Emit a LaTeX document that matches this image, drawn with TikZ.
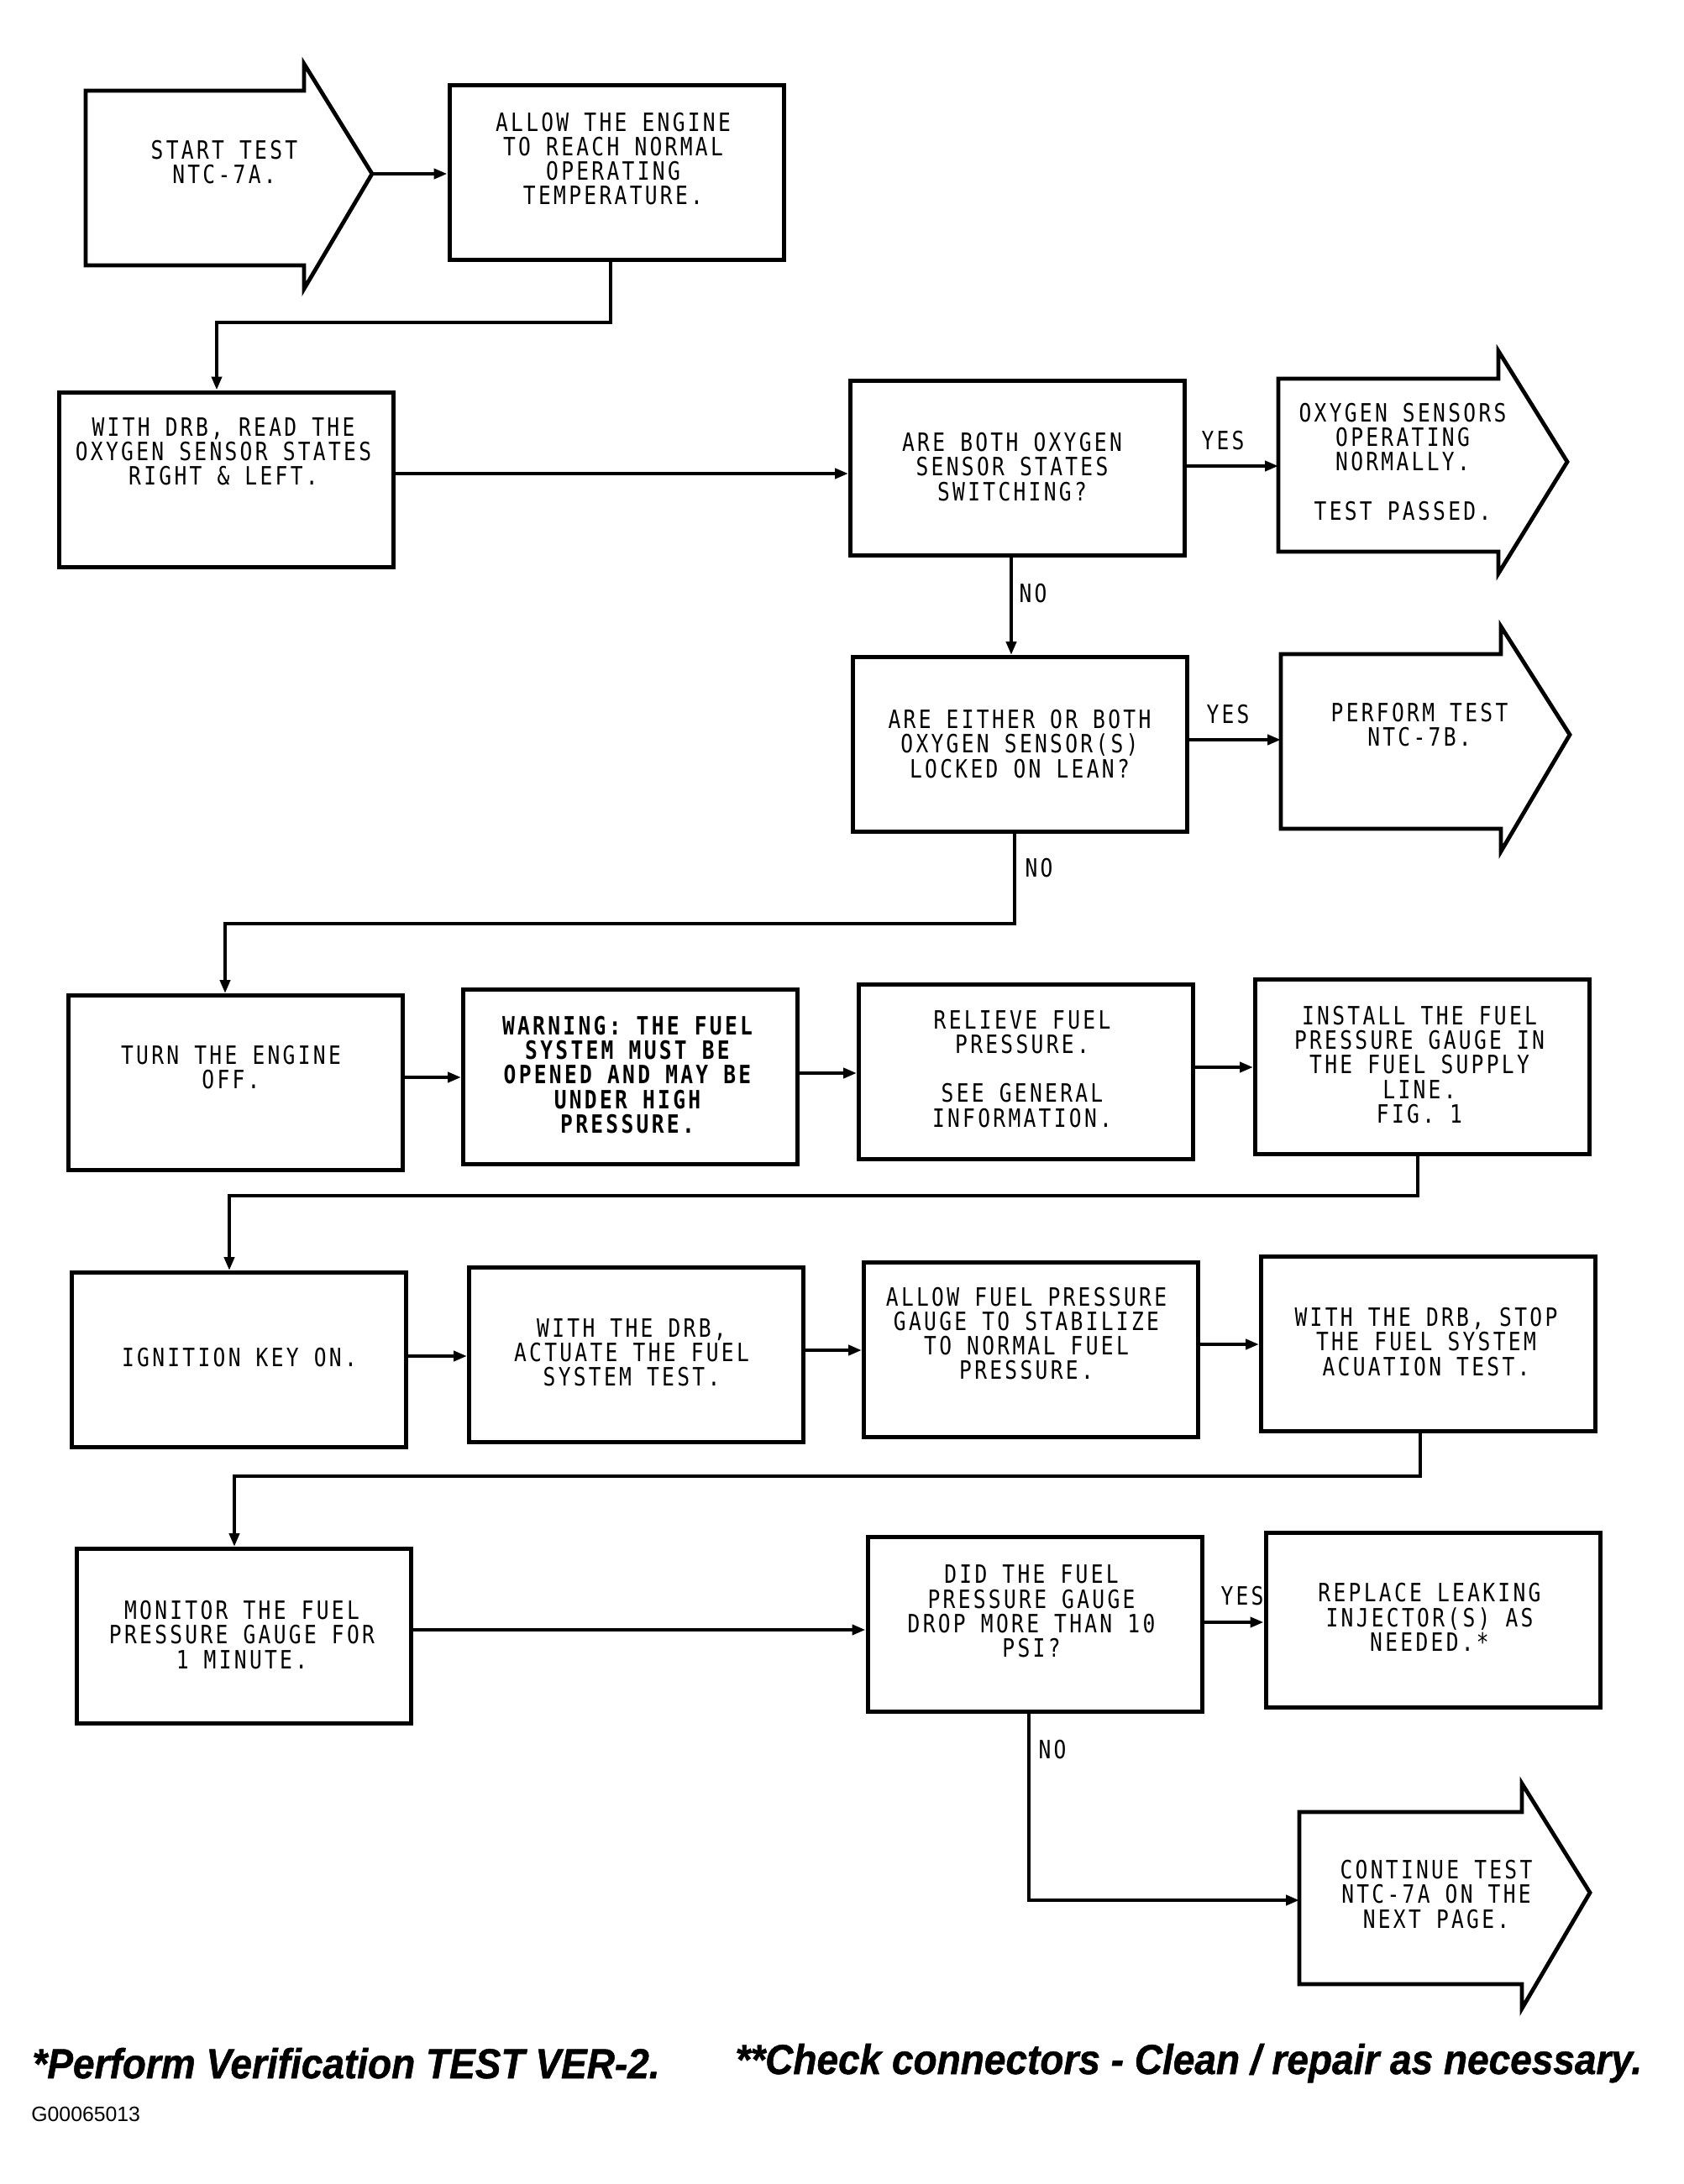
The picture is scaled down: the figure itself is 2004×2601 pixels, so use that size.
\documentclass[tikz,border=0pt]{standalone}
\usepackage{fontspec}
\usetikzlibrary{arrows.meta}
\newfontfamily\plotfont[FakeStretch=0.82,LetterSpace=11]{DejaVu Sans Mono}
\newfontfamily\notefont{Liberation Sans}
\newfontfamily\notebold[FakeStretch=0.92,FakeBold=1]{Liberation Sans Bold Italic}
\begin{document}
\begin{tikzpicture}[x=0.5pt,y=-0.5pt,
  box/.style={draw, line width=2.5pt, minimum width=199pt, minimum height=104pt, inner sep=0pt},
  txt/.style={inner sep=0pt, align=center, font=\plotfont\fontsize{15}{14.6}\selectfont},
  lbl/.style={inner sep=0pt, font=\plotfont\fontsize{15}{14.6}\selectfont},
  barrow/.style={draw, line width=2.4pt, line join=miter},
  conn/.style={line width=2.1pt, -{Triangle[length=8pt,width=6pt]}},
  note/.style={anchor=base west, inner sep=0pt, font=\notebold\fontsize{25}{28}\selectfont}
]
\useasboundingbox (0,0) rectangle (2004,2601);

% ---------- block arrows ----------
\draw[barrow] (102,108) -- (362,108) -- (362,76) -- (443,207) -- (362,344) -- (362,316) -- (102,316) -- cycle;
\coordinate (starttip) at (443,207);
\node[txt] (tstart) at (267,193) {START TEST\\NTC-7A.};

\draw[barrow] (1522,451) -- (1784,451) -- (1784,418) -- (1866,550) -- (1784,683) -- (1784,657) -- (1522,657) -- cycle;
\coordinate (oxyin) at (1522,555);
\node[txt] (toxy) at (1670,550) {OXYGEN SENSORS\\OPERATING\\ NORMALLY.\\[14.6pt]TEST PASSED.};

\draw[barrow] (1525,779) -- (1787,779) -- (1787,746) -- (1869,875) -- (1787,1014) -- (1787,987) -- (1525,987) -- cycle;
\coordinate (perfin) at (1525,881);
\node[txt] (tperf) at (1690,863) {PERFORM TEST\\NTC-7B.};

\draw[barrow] (1547,2158) -- (1812,2158) -- (1812,2124) -- (1893,2254) -- (1812,2392) -- (1812,2363) -- (1547,2363) -- cycle;
\coordinate (contin) at (1547,2263);
\node[txt] (tcont) at (1710,2256) {CONTINUE TEST\\NTC-7A ON THE\\NEXT PAGE.};

% ---------- boxes ----------
\node[box] (allow) at (734,205.5) {};
\node[txt] (tallow) at (730,189) {ALLOW THE ENGINE\\TO REACH NORMAL\\OPERATING\\TEMPERATURE.};

\node[box] (withdrb) at (269.5,571) {};
\node[txt] (twithdrb) at (266,538) {WITH DRB, READ THE\\OXYGEN SENSOR STATES\\RIGHT \& LEFT.};

\node[box] (areboth) at (1211.5,557.5) {};
\node[txt] (tareboth) at (1205,556) {ARE BOTH OXYGEN\\SENSOR STATES\\SWITCHING?};

\node[box] (areeither) at (1214.5,886.5) {};
\node[txt] (tareeither) at (1214,886) {ARE EITHER OR BOTH\\OXYGEN SENSOR(S)\\LOCKED ON LEAN?};

\node[box] (turn) at (280,1289.5) {};
\node[txt] (tturn) at (275,1271) {TURN THE ENGINE\\OFF.};

\node[box] (warning) at (750.5,1282) {};
\node[txt, font=\plotfont\bfseries\fontsize{15}{14.6}\selectfont] (twarning) at (747,1280) {WARNING: THE FUEL\\SYSTEM MUST BE\\OPENED AND MAY BE\\UNDER HIGH\\PRESSURE.};

\node[box] (relieve) at (1221.5,1276.5) {};
\node[txt] (trelieve) at (1217,1273) {RELIEVE FUEL\\PRESSURE.\\[14.6pt]SEE GENERAL\\INFORMATION.};

\node[box] (install) at (1693.5,1270.5) {};
\node[txt] (tinstall) at (1690,1268) {INSTALL THE FUEL\\PRESSURE GAUGE IN\\THE FUEL SUPPLY\\LINE.\\FIG. 1};

\node[box] (ignition) at (284.5,1619.5) {};
\node[txt] (tignition) at (285,1617) {IGNITION KEY ON.};

\node[box] (withdrb2) at (757.5,1613.5) {};
\node[txt] (twithdrb2) at (752,1611) {WITH THE DRB,\\ACTUATE THE FUEL\\SYSTEM TEST.};

\node[box] (allowfuel) at (1227.5,1607) {};
\node[txt] (tallowfuel) at (1222,1588) {ALLOW FUEL PRESSURE\\GAUGE TO STABILIZE\\TO NORMAL FUEL\\PRESSURE.};

\node[box] (stop) at (1700.5,1600) {};
\node[txt] (tstop) at (1698,1598) {WITH THE DRB, STOP\\THE FUEL SYSTEM\\ACUATION TEST.};

\node[box] (monitor) at (290.5,1948.5) {};
\node[txt] (tmonitor) at (288,1947) {MONITOR THE FUEL\\PRESSURE GAUGE FOR\\1 MINUTE.};

\node[box] (did) at (1232,1934) {};
\node[txt] (tdid) at (1228,1919) {DID THE FUEL\\PRESSURE GAUGE\\DROP MORE THAN 10\\PSI?};

\node[box] (replace) at (1706,1929) {};
\node[txt] (treplace) at (1702,1926) {REPLACE LEAKING\\INJECTOR(S) AS\\NEEDED.*};

% ---------- labels ----------
\node[lbl] (yes1) at (1456,525) {YES};
\node[lbl] (no1) at (1230,707) {NO};
\node[lbl] (yes2) at (1462,851) {YES};
\node[lbl] (no2) at (1237,1034) {NO};
\node[lbl] (yes3) at (1479,1901) {YES};
\node[lbl] (no3) at (1253,2084) {NO};

% ---------- connectors ----------
\draw[conn] (starttip) -- (starttip -| allow.west);

\coordinate (j1a) at (727,384);
\coordinate (j1b) at (258,384);
\draw[conn] (allow.south -| j1a) -- (j1a) -- (j1b) -- (withdrb.north -| j1b);

\draw[conn] (withdrb.east |- 0,564) -- (areboth.west |- 0,564);
\draw[conn] (areboth.east |- oxyin) -- (oxyin);

\coordinate (j2) at (1204,0);
\draw[conn] (areboth.south -| j2) -- (areeither.north -| j2);
\draw[conn] (areeither.east |- perfin) -- (perfin);

\coordinate (j3a) at (1208,1100);
\coordinate (j3b) at (268,1100);
\draw[conn] (areeither.south -| j3a) -- (j3a) -- (j3b) -- (turn.north -| j3b);

\draw[conn] (turn.east |- 0,1283) -- (warning.west |- 0,1283);
\draw[conn] (warning.east |- 0,1278) -- (relieve.west |- 0,1278);
\draw[conn] (relieve.east |- 0,1271) -- (install.west |- 0,1271);

\coordinate (j4a) at (1688,1424);
\coordinate (j4b) at (273,1424);
\draw[conn] (install.south -| j4a) -- (j4a) -- (j4b) -- (ignition.north -| j4b);

\draw[conn] (ignition.east |- 0,1615) -- (withdrb2.west |- 0,1615);
\draw[conn] (withdrb2.east |- 0,1608) -- (allowfuel.west |- 0,1608);
\draw[conn] (allowfuel.east |- 0,1601) -- (stop.west |- 0,1601);

\coordinate (j5a) at (1691,1758);
\coordinate (j5b) at (279,1758);
\draw[conn] (stop.south -| j5a) -- (j5a) -- (j5b) -- (monitor.north -| j5b);

\draw[conn] (monitor.east |- 0,1941) -- (did.west |- 0,1941);
\draw[conn] (did.east |- 0,1932) -- (replace.west |- 0,1932);

\coordinate (j6) at (1225,2263);
\draw[conn] (did.south -| j6) -- (j6) -- (contin);

% ---------- footer ----------
\node[note] (note1) at (38,2475) {*Perform Verification TEST VER-2.};
\node[note] (note2) at (875,2470) {**Check connectors - Clean / repair as necessary.};
\node[anchor=base west, inner sep=0pt, font=\notefont\fontsize{12.4}{14}\selectfont] (gnum) at (37,2526) {G00065013};
\end{tikzpicture}
\end{document}
